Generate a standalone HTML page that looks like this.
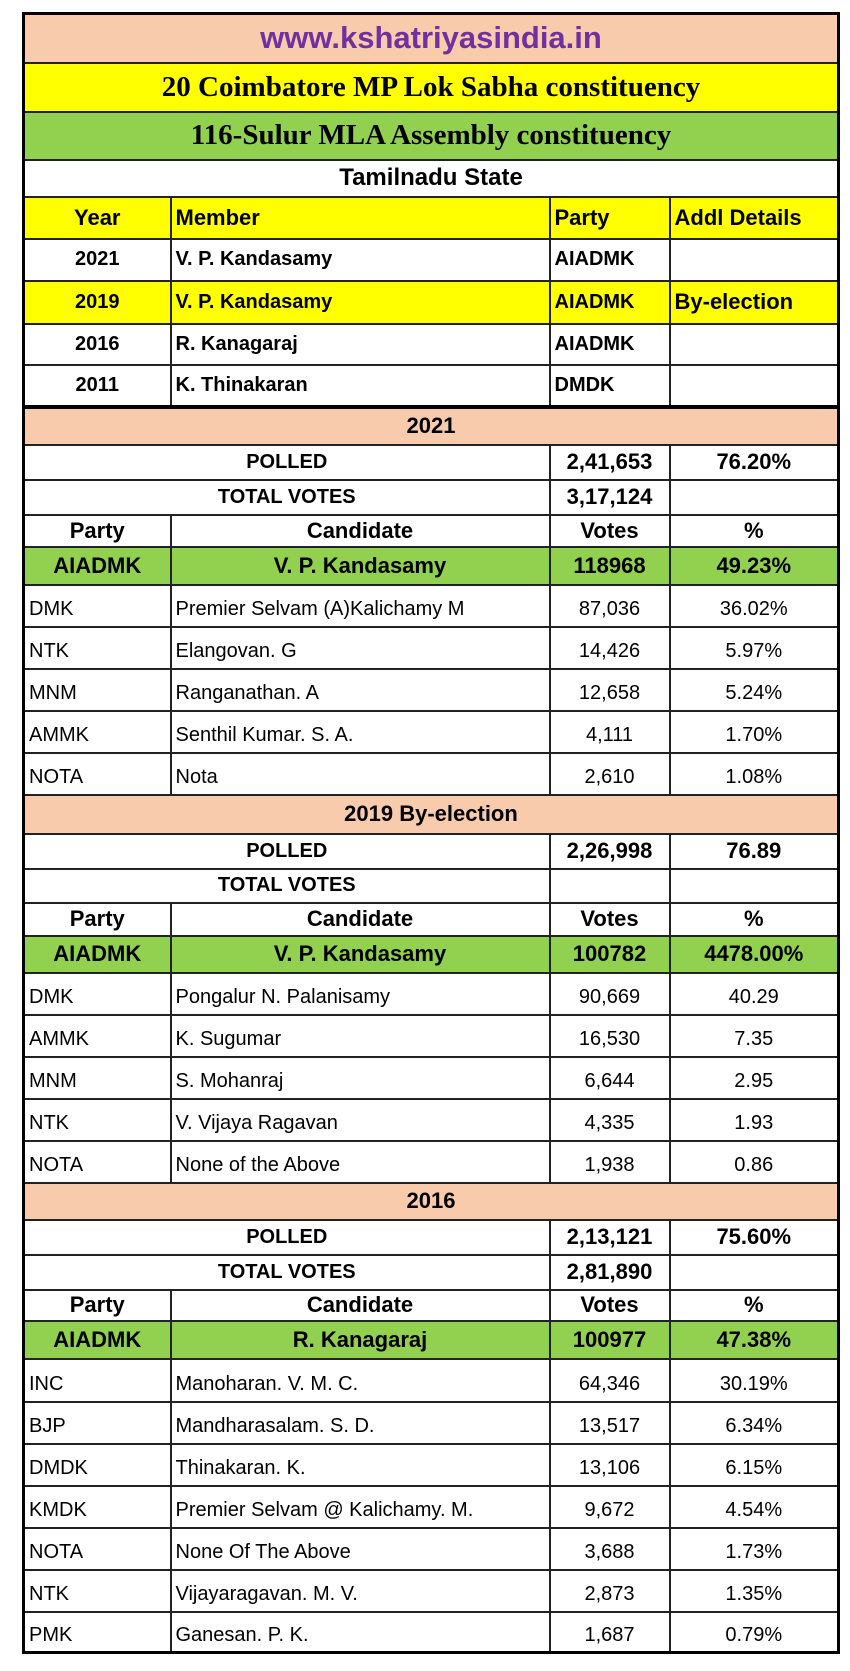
<!DOCTYPE html>
<html><head><meta charset="utf-8"><style>
body{margin:0;background:#fff;width:850px;height:1671px;position:relative;font-family:"Liberation Sans",sans-serif;}
table{position:absolute;left:22px;top:12px;width:815px;border-collapse:collapse;table-layout:fixed;border:3px solid #000;}
td{border:2px solid #222;padding:0 4px;font-size:20px;white-space:nowrap;overflow:hidden;color:#000;}
.p{background:#F8CBAD}.y{background:#FFFF00}.g{background:#92D050}
.c{text-align:center}.b{font-weight:bold}
.t{font-family:"Liberation Serif",serif;font-weight:bold;font-size:29px;text-align:center}
.hd td{font-weight:bold;font-size:22px}
.gr td{font-weight:bold;font-size:22px;text-align:center}
.thick td{border-top:4px solid #000}
.d td{padding-top:8px}
</style></head><body>
<table>
<colgroup><col style="width:147px"><col style="width:379px"><col style="width:120px"><col style="width:169px"></colgroup>
<tr style="height:49px" class="p"><td colspan="4" class="c b" style="color:#7030A0;font-size:31px">www.kshatriyasindia.in</td></tr>
<tr style="height:49px" class="y"><td colspan="4" class="t">20 Coimbatore MP Lok Sabha constituency</td></tr>
<tr style="height:48px" class="g"><td colspan="4" class="t">116-Sulur MLA Assembly constituency</td></tr>
<tr style="height:37px"><td colspan="4" class="c b" style="font-size:24px">Tamilnadu State</td></tr>
<tr style="height:42px" class="y hd"><td class="c">Year</td><td>Member</td><td>Party</td><td>Addl Details</td></tr>
<tr style="height:42px" class="b"><td class="c">2021</td><td>V. P. Kandasamy</td><td>AIADMK</td><td></td></tr>
<tr style="height:43px" class="b y"><td class="c">2019</td><td>V. P. Kandasamy</td><td>AIADMK</td><td style="font-size:22px">By-election</td></tr>
<tr style="height:41px" class="b"><td class="c">2016</td><td>R. Kanagaraj</td><td>AIADMK</td><td></td></tr>
<tr style="height:42px" class="b"><td class="c">2011</td><td>K. Thinakaran</td><td>DMDK</td><td></td></tr>

<tr style="height:38px" class="p thick"><td colspan="4" class="c b" style="font-size:22px">2021</td></tr>
<tr style="height:35px" class="b"><td colspan="2" class="c">POLLED</td><td class="c" style="font-size:22px">2,41,653</td><td class="c" style="font-size:22px">76.20%</td></tr>
<tr style="height:35px" class="b"><td colspan="2" class="c">TOTAL VOTES</td><td class="c" style="font-size:22px">3,17,124</td><td></td></tr>
<tr style="height:32px" class="hd"><td class="c">Party</td><td class="c">Candidate</td><td class="c">Votes</td><td class="c">%</td></tr>
<tr style="height:38px" class="g gr"><td>AIADMK</td><td>V. P. Kandasamy</td><td>118968</td><td>49.23%</td></tr>
<tr style="height:42px" class="d"><td>DMK</td><td>Premier Selvam (A)Kalichamy M</td><td class="c">87,036</td><td class="c">36.02%</td></tr>
<tr style="height:42px" class="d"><td>NTK</td><td>Elangovan. G</td><td class="c">14,426</td><td class="c">5.97%</td></tr>
<tr style="height:42px" class="d"><td>MNM</td><td>Ranganathan. A</td><td class="c">12,658</td><td class="c">5.24%</td></tr>
<tr style="height:42px" class="d"><td>AMMK</td><td>Senthil Kumar. S. A.</td><td class="c">4,111</td><td class="c">1.70%</td></tr>
<tr style="height:42px" class="d"><td>NOTA</td><td>Nota</td><td class="c">2,610</td><td class="c">1.08%</td></tr>

<tr style="height:39px" class="p"><td colspan="4" class="c b" style="font-size:22px">2019 By-election</td></tr>
<tr style="height:35px" class="b"><td colspan="2" class="c">POLLED</td><td class="c" style="font-size:22px">2,26,998</td><td class="c" style="font-size:22px">76.89</td></tr>
<tr style="height:34px" class="b"><td colspan="2" class="c">TOTAL VOTES</td><td></td><td></td></tr>
<tr style="height:33px" class="hd"><td class="c">Party</td><td class="c">Candidate</td><td class="c">Votes</td><td class="c">%</td></tr>
<tr style="height:37px" class="g gr"><td>AIADMK</td><td>V. P. Kandasamy</td><td>100782</td><td>4478.00%</td></tr>
<tr style="height:42px" class="d"><td>DMK</td><td>Pongalur N. Palanisamy</td><td class="c">90,669</td><td class="c">40.29</td></tr>
<tr style="height:42px" class="d"><td>AMMK</td><td>K. Sugumar</td><td class="c">16,530</td><td class="c">7.35</td></tr>
<tr style="height:42px" class="d"><td>MNM</td><td>S. Mohanraj</td><td class="c">6,644</td><td class="c">2.95</td></tr>
<tr style="height:42px" class="d"><td>NTK</td><td>V. Vijaya Ragavan</td><td class="c">4,335</td><td class="c">1.93</td></tr>
<tr style="height:42px" class="d"><td>NOTA</td><td>None of the Above</td><td class="c">1,938</td><td class="c">0.86</td></tr>

<tr style="height:37px" class="p"><td colspan="4" class="c b" style="font-size:22px">2016</td></tr>
<tr style="height:35px" class="b"><td colspan="2" class="c">POLLED</td><td class="c" style="font-size:22px">2,13,121</td><td class="c" style="font-size:22px">75.60%</td></tr>
<tr style="height:35px" class="b"><td colspan="2" class="c">TOTAL VOTES</td><td class="c" style="font-size:22px">2,81,890</td><td></td></tr>
<tr style="height:31px" class="hd"><td class="c">Party</td><td class="c">Candidate</td><td class="c">Votes</td><td class="c">%</td></tr>
<tr style="height:38px" class="g gr"><td>AIADMK</td><td>R. Kanagaraj</td><td>100977</td><td>47.38%</td></tr>
<tr style="height:43px" class="d"><td>INC</td><td>Manoharan. V. M. C.</td><td class="c">64,346</td><td class="c">30.19%</td></tr>
<tr style="height:42px" class="d"><td>BJP</td><td>Mandharasalam. S. D.</td><td class="c">13,517</td><td class="c">6.34%</td></tr>
<tr style="height:42px" class="d"><td>DMDK</td><td>Thinakaran. K.</td><td class="c">13,106</td><td class="c">6.15%</td></tr>
<tr style="height:42px" class="d"><td>KMDK</td><td>Premier Selvam @ Kalichamy. M.</td><td class="c">9,672</td><td class="c">4.54%</td></tr>
<tr style="height:42px" class="d"><td>NOTA</td><td>None Of The Above</td><td class="c">3,688</td><td class="c">1.73%</td></tr>
<tr style="height:42px" class="d"><td>NTK</td><td>Vijayaragavan. M. V.</td><td class="c">2,873</td><td class="c">1.35%</td></tr>
<tr style="height:41px" class="d"><td>PMK</td><td>Ganesan. P. K.</td><td class="c">1,687</td><td class="c">0.79%</td></tr>
</table>
</body></html>
